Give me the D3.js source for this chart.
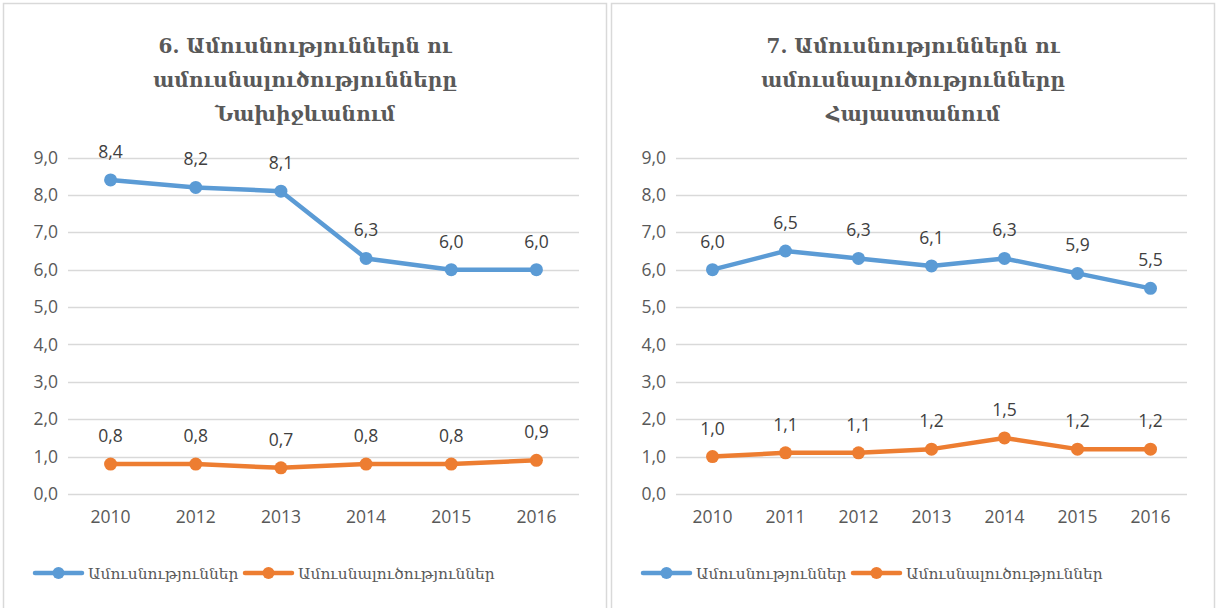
<!DOCTYPE html>
<meta charset="utf-8">
<style>
  body { margin: 0; background: #fff; }
  .tick text, .dlabel { font-family: "Open Sans", sans-serif; font-size: 17.5px; fill: #595959; }
  .dlabel { fill: #404040; }
  .title { font-family: "DejaVu Serif", serif; font-weight: bold; font-size: 20px; fill: #595959; text-anchor: middle; }
  .legend text { font-family: "DejaVu Serif", serif; font-size: 15.4px; fill: #595959; }
</style>
<body>
<svg width="1217" height="608"></svg>
<script src="https://d3js.org/d3.v7.min.js"></script>
<script>

// left panel: Nakhichevan
var yearsNakh = ["2010", "2012", "2013", "2014", "2015", "2016"];
var marriagesNakh = [8.4, 8.2, 8.1, 6.3, 6.0, 6.0];
var divorcesNakh = [0.8, 0.8, 0.7, 0.8, 0.8, 0.9];
var titleNakh = ["6. Ամուսնություններն ու", "ամուսնալուծությունները", "Նախիջևանում"];

// right panel: Armenia
var yearsArm = ["2010", "2011", "2012", "2013", "2014", "2015", "2016"];
var marriagesArm = [6.0, 6.5, 6.3, 6.1, 6.3, 5.9, 5.5];
var divorcesArm = [1.0, 1.1, 1.1, 1.2, 1.5, 1.2, 1.2];
var titleArm = ["7. Ամուսնություններն ու", "ամուսնալուծությունները", "Հայաստանում"];

var seriesNames = ["Ամուսնություններ", "Ամուսնալուծություններ"];
var colors = ["#5B9BD5", "#ED7D31"];
var yTicks = [0, 1, 2, 3, 4, 5, 6, 7, 8, 9];

var svg = d3.select("svg");
var fmt = function(v) { return d3.format(".1f")(v).replace(".", ","); };

function drawPanel(x0, years, marr, div, title) {
    var g = svg.append("g").attr("transform", "translate(" + x0 + ",0)");

    // panel frame (runs off the bottom like the original)
    g.append("rect")
        .attr("x", 3.5).attr("y", 3.5)
        .attr("width", 603).attr("height", 640)
        .attr("fill", "none").attr("stroke", "#D9D9D9").attr("stroke-width", 1.5);

    g.selectAll(".title").data(title).enter().append("text")
        .attr("class", "title")
        .attr("x", 305)
        .attr("y", function(d, i) { return 53 + i * 34; })
        .text(function(d) { return d; });

    var x = d3.scaleBand().domain(years).range([68, 579]);
    var y = d3.scaleLinear().domain([0, 9]).range([494, 157.5]);

    // gridlines
    g.append("g").selectAll("line").data(yTicks).enter().append("line")
        .attr("x1", 68).attr("x2", 579)
        .attr("y1", function(d) { return Math.round(y(d)) + 0.5; })
        .attr("y2", function(d) { return Math.round(y(d)) + 0.5; })
        .attr("stroke", "#D9D9D9").attr("stroke-width", 1.3);

    var yAxis = g.append("g").attr("transform", "translate(62,0)")
        .call(d3.axisLeft(y).tickValues(yTicks).tickFormat(fmt).tickSize(0).tickPadding(4));
    yAxis.select(".domain").remove();

    var xAxis = g.append("g").attr("transform", "translate(0,494)")
        .call(d3.axisBottom(x).tickSize(0).tickPadding(17));
    xAxis.select(".domain").remove();

    [marr, div].forEach(function(vals, si) {
        var pts = vals.map(function(v, i) { return { year: years[i], v: v }; });
        var line = d3.line()
            .x(function(d) { return x(d.year) + x.bandwidth() / 2; })
            .y(function(d) { return y(d.v); });
        g.append("path").datum(pts)
            .attr("d", line)
            .attr("fill", "none")
            .attr("stroke", colors[si])
            .attr("stroke-width", 4.5)
            .attr("stroke-linejoin", "round")
            .attr("stroke-linecap", "round");
        g.append("g").selectAll("circle").data(pts).enter().append("circle")
            .attr("cx", function(d) { return x(d.year) + x.bandwidth() / 2; })
            .attr("cy", function(d) { return y(d.v); })
            .attr("r", 6.5)
            .attr("fill", colors[si]);
        g.append("g").selectAll("text").data(pts).enter().append("text")
            .attr("class", "dlabel")
            .attr("text-anchor", "middle")
            .attr("x", function(d) { return x(d.year) + x.bandwidth() / 2; })
            .attr("y", function(d) { return y(d.v) - 22; })
            .text(function(d) { return fmt(d.v); });
    });

    // legend
    var leg = g.append("g").attr("class", "legend");
    var lx = [35, 245];
    seriesNames.forEach(function(name, i) {
        var item = leg.append("g").attr("transform", "translate(" + lx[i] + ",573)");
        item.append("line").attr("x1", 0).attr("x2", 47)
            .attr("stroke", colors[i]).attr("stroke-width", 4.5).attr("stroke-linecap", "round");
        item.append("circle").attr("cx", 23.5).attr("r", 6).attr("fill", colors[i]);
        item.append("text").attr("x", 53).attr("y", 6).text(name);
    });
}

drawPanel(0, yearsNakh, marriagesNakh, divorcesNakh, titleNakh);
drawPanel(608, yearsArm, marriagesArm, divorcesArm, titleArm);

</script>
</body>
